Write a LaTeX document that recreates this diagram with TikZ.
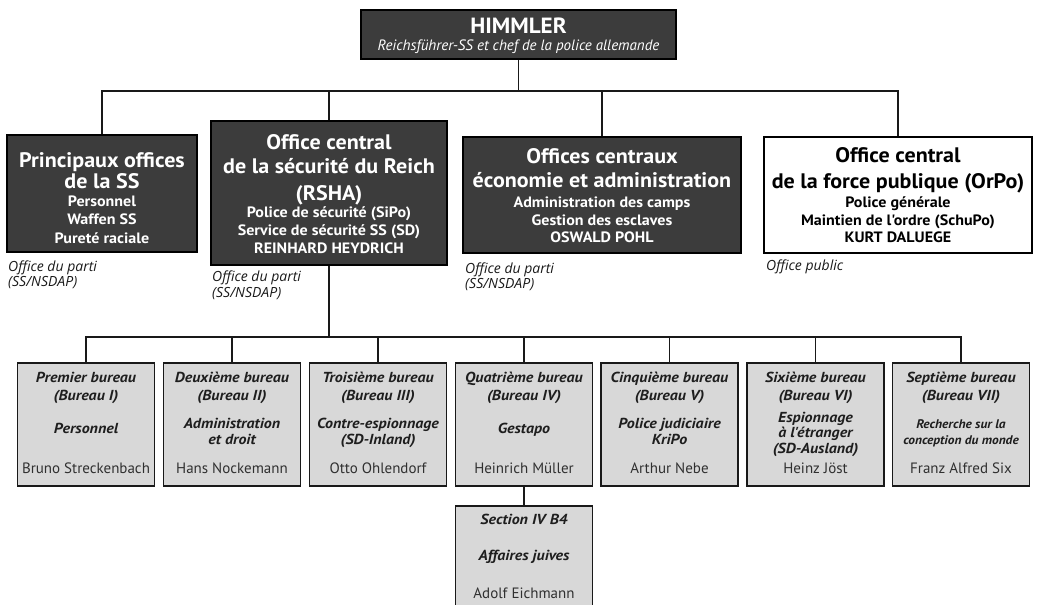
\documentclass[tikz,border=0pt]{standalone}
\usepackage{fontspec}
\setmainfont{PT Sans}
\newfontfamily\fT[FakeStretch=1.05]{PT Sans}
\newfontfamily\fS[FakeStretch=1.07]{PT Sans}
\newfontfamily\fL{Open Sans}
\newfontfamily\fB[FakeStretch=1.1]{PT Sans}
\definecolor{dkfill}{HTML}{3C3C3C}
\definecolor{ltfill}{HTML}{D8D8D8}
\definecolor{bxtext}{HTML}{1E1E1E}
\definecolor{nmtext}{HTML}{303030}
\tikzset{
  dk/.style={draw=black, line width=1.6pt, fill=dkfill, inner sep=0pt},
  wt/.style={draw=black, line width=1.6pt, fill=white, inner sep=0pt},
  bu/.style={draw=black!90, line width=1.6pt, fill=ltfill, inner sep=0pt, minimum width=137, minimum height=123},
  ln/.style={line width=1.4pt, draw=black!90},
  tl/.style={inner sep=0pt, anchor=base, font=\fT\bfseries\fontsize{21}{21}\selectfont},
  sb/.style={inner sep=0pt, anchor=base, font=\fS\bfseries\fontsize{15}{15}\selectfont},
  lb/.style={inner sep=0pt, anchor=base west, font=\fL\itshape\fontsize{14}{14}\selectfont, text=black!90},
  bh/.style={inner sep=0pt, anchor=base, font=\fB\bfseries\itshape\fontsize{14.5}{15}\selectfont, text=bxtext},
  bs/.style={inner sep=0pt, anchor=base, font=\fS\bfseries\itshape\fontsize{12.5}{13}\selectfont, text=bxtext},
  bn/.style={inner sep=0pt, anchor=base, font=\fontsize{15}{15}\selectfont, text=nmtext}
}
\begin{document}
\begin{tikzpicture}[x=1pt,y=-1pt]
\useasboundingbox (0,0) rectangle (1037,605);
\clip (0,0) rectangle (1037,605);
% level 0
\node[dk, minimum width=315, minimum height=49] (him) at (518.5,34.5) {};
\node[tl, text=white, font=\fT\bfseries\fontsize{22}{22}\selectfont] (him1) at (518.5,33) {HIMMLER};
\node[inner sep=0pt, anchor=base, font=\itshape\fontsize{15}{15}\selectfont, text=white] (him2) at (518.5,50.5) {Reichsführer-SS et chef de la police allemande};
% level 1 boxes
\node[dk, minimum width=190, minimum height=117] (pr) at (102,193.5) {};
\node[dk, minimum width=236, minimum height=144] (rs) at (329,193) {};
\node[dk, minimum width=278, minimum height=116] (oc) at (602,195) {};
\node[wt, minimum width=268, minimum height=116] (op) at (898,195) {};
% connectors level 0 -> 1
\coordinate (bus1) at (518.5,91);
\draw[ln] (him.south) -- (bus1);
\draw[ln] (pr.north) |- (bus1);
\draw[ln] (bus1) -| (op.north);
\draw[ln] (rs.north) -- (rs.north |- bus1);
\draw[ln] (oc.north) -- (oc.north |- bus1);
% Principaux
\node[tl, text=white] (pr1) at (102,167) {Principaux offices};
\node[tl, text=white] (pr2) at (102,188) {de la SS};
\node[sb, text=white] (pr3) at (102,206) {Personnel};
\node[sb, text=white] (pr4) at (102,224.5) {Waffen SS};
\node[sb, text=white] (pr5) at (102,243) {Pureté raciale};
\node[lb] (prl1) at (8,271) {Office du parti};
\node[lb] (prl2) at (8,286) {(SS/NSDAP)};
% RSHA
\node[tl, text=white] (rs1) at (329,149) {Office central};
\node[tl, text=white] (rs2) at (329,173) {de la sécurité du Reich};
\node[tl, text=white] (rs3) at (329,200) {(RSHA)};
\node[sb, text=white] (rs4) at (329,217) {Police de sécurité (SiPo)};
\node[sb, text=white] (rs5) at (329,235.5) {Service de sécurité SS (SD)};
\node[sb, text=white] (rs6) at (329,253) {REINHARD HEYDRICH};
\node[lb] (rsl1) at (212,281) {Office du parti};
\node[lb] (rsl2) at (212,297) {(SS/NSDAP)};
% Offices centraux
\node[tl, text=white] (oc1) at (602,163) {Offices centraux};
\node[tl, text=white] (oc2) at (602,187) {économie et administration};
\node[sb, text=white] (oc3) at (602,207) {Administration des camps};
\node[sb, text=white] (oc4) at (602,225) {Gestion des esclaves};
\node[sb, text=white] (oc5) at (602,242.5) {OSWALD POHL};
\node[lb] (ocl1) at (465,273) {Office du parti};
\node[lb] (ocl2) at (465,288) {(SS/NSDAP)};
% OrPo
\node[tl] (op1) at (898,162) {Office central};
\node[tl] (op2) at (898,188) {de la force publique (OrPo)};
\node[sb] (op3) at (898,207) {Police générale};
\node[sb] (op4) at (898,225) {Maintien de l'ordre (SchuPo)};
\node[sb] (op5) at (898,242.5) {KURT DALUEGE};
\node[lb] (opl1) at (766,270) {Office public};
% bureaus
\node[bu] (b1) at (86,424.5) {};
\node[bu] (b2) at (232,424.5) {};
\node[bu] (b3) at (378,424.5) {};
\node[bu] (b4) at (524,424.5) {};
\node[bu] (b5) at (669.5,424.5) {};
\node[bu] (b6) at (815.5,424.5) {};
\node[bu] (b7) at (961,424.5) {};
\node[bu, minimum height=110] (b8) at (524,561) {};
% connectors RSHA -> bureaus
\coordinate (bus2) at (329,337);
\draw[ln] (rs.south) -- (bus2);
\draw[ln] (b1.north) |- (bus2);
\draw[ln] (bus2) -| (b7.north);
\foreach \b in {b2,b3,b4,b5,b6} {\draw[ln] (\b.north) -- (\b.north |- bus2);}
\draw[ln] (b4.south) -- (b8.north);
% bureau 1
\node[bh] (b1a) at (86,382) {Premier bureau};
\node[bh] (b1b) at (86,400) {(Bureau I)};
\node[bh] (b1c) at (86,433) {Personnel};
\node[bn] (b1d) at (86,473) {Bruno Streckenbach};
% bureau 2
\node[bh] (b2a) at (232,382) {Deuxième bureau};
\node[bh] (b2b) at (232,400) {(Bureau II)};
\node[bh] (b2c) at (232,428) {Administration};
\node[bh] (b2e) at (232,444) {et droit};
\node[bn] (b2d) at (232,473) {Hans Nockemann};
% bureau 3
\node[bh] (b3a) at (378,382) {Troisième bureau};
\node[bh] (b3b) at (378,400) {(Bureau III)};
\node[bh] (b3c) at (378,428) {Contre-espionnage};
\node[bh] (b3e) at (378,444) {(SD-Inland)};
\node[bn] (b3d) at (378,473) {Otto Ohlendorf};
% bureau 4
\node[bh] (b4a) at (524,382) {Quatrième bureau};
\node[bh] (b4b) at (524,400) {(Bureau IV)};
\node[bh] (b4c) at (524,433) {Gestapo};
\node[bn] (b4d) at (524,473) {Heinrich Müller};
% bureau 5
\node[bh] (b5a) at (669.5,382) {Cinquième bureau};
\node[bh] (b5b) at (669.5,400) {(Bureau V)};
\node[bh] (b5c) at (669.5,428) {Police judiciaire};
\node[bh] (b5e) at (669.5,444) {KriPo};
\node[bn] (b5d) at (669.5,473) {Arthur Nebe};
% bureau 6
\node[bh] (b6a) at (815.5,382) {Sixième bureau};
\node[bh] (b6b) at (815.5,400) {(Bureau VI)};
\node[bh] (b6c) at (815.5,422.5) {Espionnage};
\node[bh] (b6e) at (815.5,437.5) {à l'étranger};
\node[bh] (b6f) at (815.5,453) {(SD-Ausland)};
\node[bn] (b6d) at (815.5,473) {Heinz Jöst};
% bureau 7
\node[bh] (b7a) at (961,382) {Septième bureau};
\node[bh] (b7b) at (961,400) {(Bureau VII)};
\node[bs] (b7c) at (961,428) {Recherche sur la};
\node[bs] (b7e) at (961,444) {conception du monde};
\node[bn] (b7d) at (961,473) {Franz Alfred Six};
% section IV B4
\node[bh] (b8a) at (524,524) {Section IV B4};
\node[bh] (b8c) at (524,560) {Affaires juives};
\node[bn] (b8d) at (524,598) {Adolf Eichmann};
\end{tikzpicture}
\end{document}
